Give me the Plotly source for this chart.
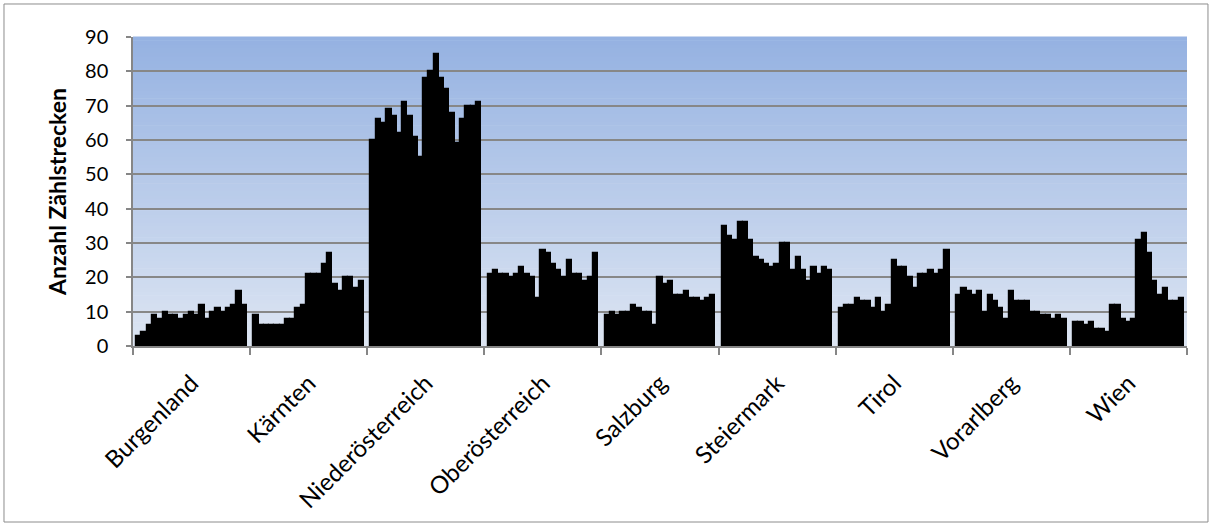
import numpy as np
import plotly.graph_objects as go

# Anzahl Zählstrecken je Bundesland (21 Werte pro Land)
regions = ["Burgenland", "Kärnten", "Niederösterreich", "Oberösterreich",
           "Salzburg", "Steiermark", "Tirol", "Vorarlberg", "Wien"]

burgenland = [3, 4, 6, 9, 8, 10, 9, 9, 8, 9, 10, 9, 12, 8, 10, 11, 10, 11, 12, 16, 12]
kaernten = [9, 6, 6, 6, 6, 6, 8, 8, 11, 12, 21, 21, 21, 24, 27, 18, 16, 20, 20, 17, 19]
niederoesterreich = [60, 66, 65, 69, 67, 62, 71, 67, 61, 55, 78, 80, 85, 78, 75, 68, 59, 66, 70, 70, 71]
oberoesterreich = [21, 22, 21, 21, 20, 21, 23, 21, 20, 14, 28, 27, 24, 22, 20, 25, 21, 21, 19, 20, 27]
salzburg = [9, 10, 9, 10, 10, 12, 11, 10, 10, 6, 20, 18, 19, 15, 15, 16, 14, 14, 13, 14, 15]
steiermark = [35, 32, 31, 36, 36, 31, 26, 25, 24, 23, 24, 30, 30, 22, 26, 22, 19, 23, 21, 23, 22]
tirol = [11, 12, 12, 14, 13, 13, 11, 14, 10, 12, 25, 23, 23, 20, 17, 21, 21, 22, 21, 22, 28]
vorarlberg = [15, 17, 16, 15, 16, 10, 15, 13, 11, 8, 16, 13, 13, 13, 10, 10, 9, 9, 8, 9, 8]
wien = [7, 7, 6, 7, 5, 5, 4, 12, 12, 8, 7, 8, 31, 33, 27, 19, 15, 17, 13, 13, 14]

series = [burgenland, kaernten, niederoesterreich, oberoesterreich,
          salzburg, steiermark, tirol, vorarlberg, wien]

y_ticks = [0, 10, 20, 30, 40, 50, 60, 70, 80, 90]

# each Bundesland occupies one unit on the x axis; its bars sit side by side, centred
bar_w = 0.045
xs, ys = [], []
for g, vals in enumerate(series):
    n = len(vals)
    for j, v in enumerate(vals):
        xs.append(g + 0.5 + (j - (n - 1) / 2) * bar_w)
        ys.append(v)

fig = go.Figure()
fig.add_trace(go.Bar(
    x=xs, y=ys, width=bar_w,
    marker=dict(color="black", line=dict(color="black", width=1.2)),
    showlegend=False,
))

# vertical colour gradient of the plot area
shapes = []
top = np.array([149, 178, 226])
bottom = np.array([222, 230, 243])
n_bands = 80
for k in range(n_bands):
    t = (k + 0.5) / n_bands
    c = bottom + (top - bottom) * t
    shapes.append(dict(
        type="rect", xref="paper", yref="paper",
        x0=0, x1=1, y0=k / n_bands, y1=(k + 1) / n_bands + 0.002,
        fillcolor=f"rgb({int(c[0])},{int(c[1])},{int(c[2])})",
        line=dict(width=0), layer="below",
    ))

# outer frame of the chart
shapes.append(dict(
    type="rect", xref="paper", yref="paper",
    x0=-0.1224, x1=1.0199, y0=-0.5696, y1=1.1068,
    line=dict(color="#8c8c8c", width=1), fillcolor="rgba(0,0,0,0)", layer="above",
))

font_family = "Lato, 'Open Sans', sans-serif"

fig.update_layout(
    width=1213, height=527,
    margin=dict(l=133, r=26, t=37, b=181),
    paper_bgcolor="white",
    plot_bgcolor="rgba(0,0,0,0)",
    shapes=shapes,
    bargap=0,
    font=dict(family=font_family, size=18, color="black"),
    xaxis=dict(
        range=[0, 9],
        tickmode="array",
        tickvals=[g + 0.5 for g in range(len(regions))],
        ticktext=regions,
        tickangle=-45,
        ticks="",
        ticklabelstandoff=12,
        showgrid=False,
        zeroline=False,
        showline=True, linecolor="#868686", linewidth=1.5,
        minor=dict(tickmode="array", tickvals=list(range(len(regions) + 1)),
                   ticks="outside", ticklen=7, tickcolor="#868686", tickwidth=1.5,
                   showgrid=False),
        tickfont=dict(size=24),
    ),
    yaxis=dict(
        range=[0, 90],
        tickmode="array",
        tickvals=y_ticks,
        ticks="outside", ticklen=5, tickcolor="#868686", tickwidth=1.5,
        ticklabelstandoff=14,
        showgrid=True, gridcolor="#878787", gridwidth=1.5,
        zeroline=False,
        showline=True, linecolor="#868686", linewidth=1.5,
        tickfont=dict(size=20),
        title=dict(text="<b>Anzahl Zählstrecken</b>", font=dict(size=23), standoff=12),
    ),
)

fig.write_html("out.html")
